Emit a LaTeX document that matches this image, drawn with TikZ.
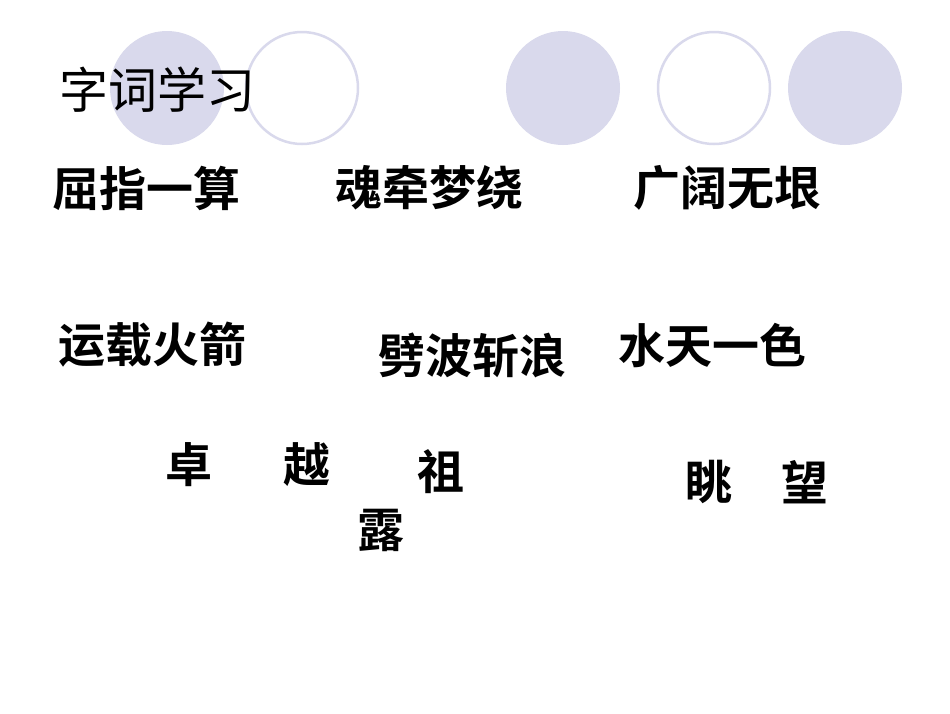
\documentclass[tikz,border=0pt]{standalone}
\usepackage{fontspec}
\newfontfamily\cjk{Noto Sans CJK SC}
\newfontfamily\cjkb{Noto Sans CJK SC Bold}
\definecolor{lav}{HTML}{D9D9EC}
\begin{document}
\begin{tikzpicture}[x=1pt,y=-1pt,
  word/.style={anchor=west,inner sep=0pt,font=\cjkb\fontsize{47}{47}\selectfont},
  ttl/.style={anchor=west,inner sep=0pt,font=\cjk\fontsize{49}{49}\selectfont},
  fc/.style={fill=lav,draw=none},
  oc/.style={draw=lav,line width=2.5pt,fill=white}]
\useasboundingbox (0,0) rectangle (950,713);
\fill[white] (0,0) rectangle (950,713);
\path[fc] (167,88) circle (57);
\path[oc] (302,88) circle (56);
\path[fc] (563,88) circle (57);
\path[oc] (714,88) circle (56);
\path[fc] (845,88) circle (57);
\node[ttl] (t) at (59,90) {字词学习};
\node[word] (w1) at (52,188) {屈指一算};
\node[word] (w2) at (335,188) {魂牵梦绕};
\node[word] (w3) at (633,188) {广阔无垠};
\node[word] (w4) at (58,345) {运载火箭};
\node[word] (w5) at (378,355) {劈波斩浪};
\node[word] (w6) at (618,345) {水天一色};
\node[word] (c1) at (165,465) {卓};
\node[word] (c2) at (283,465) {越};
\node[word] (c3) at (417,472) {祖};
\node[word] (c4) at (357,530) {露};
\node[word] (c5) at (685,482) {眺};
\node[word] (c6) at (781,482) {望};
\end{tikzpicture}
\end{document}
